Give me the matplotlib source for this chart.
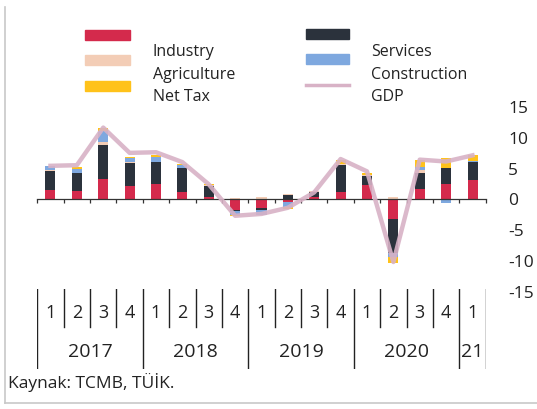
import matplotlib
matplotlib.use('Agg')
import matplotlib.pyplot as plt
import numpy as np
from matplotlib.patches import Rectangle
from matplotlib.lines import Line2D

plt.rcParams['font.family'] = ['Open Sans', 'DejaVu Sans']
plt.rcParams['axes.unicode_minus'] = False

# ---- data ----
quarter_labels = ['1', '2', '3', '4'] * 4 + ['1']
year_labels = ['2017', '2018', '2019', '2020', '21']
year_centers = [1.5, 5.5, 9.5, 13.5, 16.0]
year_bounds = [-0.5, 3.5, 7.5, 11.5, 15.5, 16.5]

industry =     [1.3, 1.2, 3.1, 2.0, 2.3, 1.0, 0.3, -1.8, -1.6, -0.6, 0.2, 1.0, 2.2, -3.4, 1.5, 2.3, 3.0]
services =     [3.2, 2.9, 5.6, 3.8, 3.6, 3.9, 1.8, -0.3, -0.2, 0.6, 0.9, 4.4, 1.4, -5.5, 2.7, 2.7, 2.9]
agriculture =  [0.2, 0.1, 0.4, 0.2, 0.1, 0.1, 0.1, 0.1, 0.2, 0.1, 0.1, 0.2, 0.2, 0.3, 0.5, -0.3, 0.1]
construction = [0.5, 0.6, 1.9, 0.5, 0.7, 0.4, -0.1, -0.6, -0.8, -0.8, -0.1, -0.3, -0.2, -0.6, 0.4, -0.4, 0.1]
net_tax =      [0.1, 0.3, 0.4, 0.3, 0.3, 0.2, 0.1, -0.2, -0.1, -0.3, 0.0, 0.6, 0.4, -0.9, 1.2, 1.6, 0.9]
gdp =          [5.3, 5.4, 11.5, 7.4, 7.5, 5.9, 2.3, -2.8, -2.5, -1.5, 1.0, 6.4, 4.4, -10.3, 6.3, 6.0, 7.0]
y_ticks = [15, 10, 5, 0, -5, -10, -15]

series = [
    ('Industry', industry, '#d42a4c'),
    ('Services', services, '#2b323c'),
    ('Agriculture', agriculture, '#f3cdb6'),
    ('Construction', construction, '#7ea8df'),
    ('Net Tax', net_tax, '#ffc21a'),
]
gdp_color = '#d8b2c6'

W, H = 537, 410
fig = plt.figure(figsize=(W / 100, H / 100), dpi=100)
fig.patch.set_facecolor('white')

def fx(px):
    return px / W

def fy(py):
    return 1 - py / H

x_left, x_right = 37.3, 485.7
ax = fig.add_axes([fx(x_left), fy(292), fx(x_right) - fx(x_left), (292 - 107) / H])
x = np.arange(len(gdp))
pos_bottom = np.zeros(len(x))
neg_bottom = np.zeros(len(x))
for name, vals, col in series:
    v = np.array(vals, dtype=float)
    bottoms = np.where(v >= 0, pos_bottom, neg_bottom)
    ax.bar(x, v, width=0.38, bottom=bottoms, color=col, linewidth=0, zorder=2)
    pos_bottom = pos_bottom + np.where(v > 0, v, 0)
    neg_bottom = neg_bottom + np.where(v < 0, v, 0)

ax.plot(x, gdp, color=gdp_color, lw=3.2, alpha=0.9, zorder=3, solid_joinstyle='round')

ax.set_xlim(-0.5, 16.5)
ax.set_ylim(-15, 15)
for s in ['top', 'left', 'right']:
    ax.spines[s].set_visible(False)
ax.spines['bottom'].set_position(('data', 0))
ax.spines['bottom'].set_linewidth(0.9)
ax.spines['bottom'].set_color('#333333')
ax.set_xticks(np.arange(-0.5, 17, 1))
ax.set_xticklabels([])
ax.tick_params(axis='x', direction='out', length=3, width=0.9, color='#333333')
ax.yaxis.tick_right()
ax.set_yticks(y_ticks)
ax.set_yticklabels([str(t) for t in y_ticks])
ax.tick_params(axis='y', length=0, pad=16, labelsize=12.5, labelcolor='#222222')
ax.set_facecolor('none')

# ---- category table below ----
top_px, bot_px = 290, 370
ax2 = fig.add_axes([fx(x_left), fy(bot_px), fx(x_right) - fx(x_left), (bot_px - top_px) / H])
ax2.set_xlim(-0.5, 16.5)
ax2.set_ylim(0, 1)
ax2.axis('off')
q_low = (bot_px - 328) / (bot_px - top_px)
for b in np.arange(-0.5, 17, 1):
    if b in year_bounds:
        ax2.plot([b, b], [0, 1], color='#222222', lw=1.0)
    else:
        ax2.plot([b, b], [q_low, 1], color='#222222', lw=1.0)
q_y = (bot_px - 313) / (bot_px - top_px)
for i, lab in enumerate(quarter_labels):
    ax2.text(i, q_y, lab, ha='center', va='center', fontsize=13, color='#222222')
y_y = (bot_px - 352) / (bot_px - top_px)
for c, lab in zip(year_centers, year_labels):
    ax2.text(c, y_y, lab, ha='center', va='center', fontsize=14, color='#222222')

# ---- legend (manual) ----
leg_items_col1 = [('Industry', '#d42a4c', 36), ('Agriculture', '#f3cdb6', 61), ('Net Tax', '#ffc21a', 87)]
leg_items_col2 = [('Services', '#2b323c', 35), ('Construction', '#7ea8df', 60)]
for lab, col, yc in leg_items_col1:
    fig.add_artist(Rectangle((fx(85), fy(yc + 5)), fx(130) - fx(85), 10 / H, color=col,
                             transform=fig.transFigure))
for lab, col, yc in leg_items_col2:
    fig.add_artist(Rectangle((fx(306), fy(yc + 5)), fx(349) - fx(306), 10 / H, color=col,
                             transform=fig.transFigure))
fig.add_artist(Line2D([fx(306), fx(349)], [fy(86), fy(86)], color=gdp_color, lw=2.5,
                      transform=fig.transFigure))
for lab, yc in zip(['Industry', 'Agriculture', 'Net Tax'], [52, 75, 97]):
    fig.text(fx(153), fy(yc), lab, ha='left', va='center', fontsize=11.5, color='#222222')
for lab, yc in zip(['Services', 'Construction', 'GDP'], [52, 75, 97]):
    fig.text(fx(371), fy(yc), lab, ha='left', va='center', fontsize=11.5, color='#222222')

fig.text(fx(8), fy(383), 'Kaynak: TCMB, TÜİK.', ha='left', va='center', fontsize=12.5, color='#222222')

# frame lines
fig.add_artist(Line2D([fx(5), fx(5)], [fy(8), fy(404)], color='#c8c8c8', lw=1.2, transform=fig.transFigure))
fig.add_artist(Line2D([fx(5), fx(537)], [fy(404), fy(404)], color='#c8c8c8', lw=1.2, transform=fig.transFigure))

fig.savefig('out.png', dpi=100, facecolor='white')
